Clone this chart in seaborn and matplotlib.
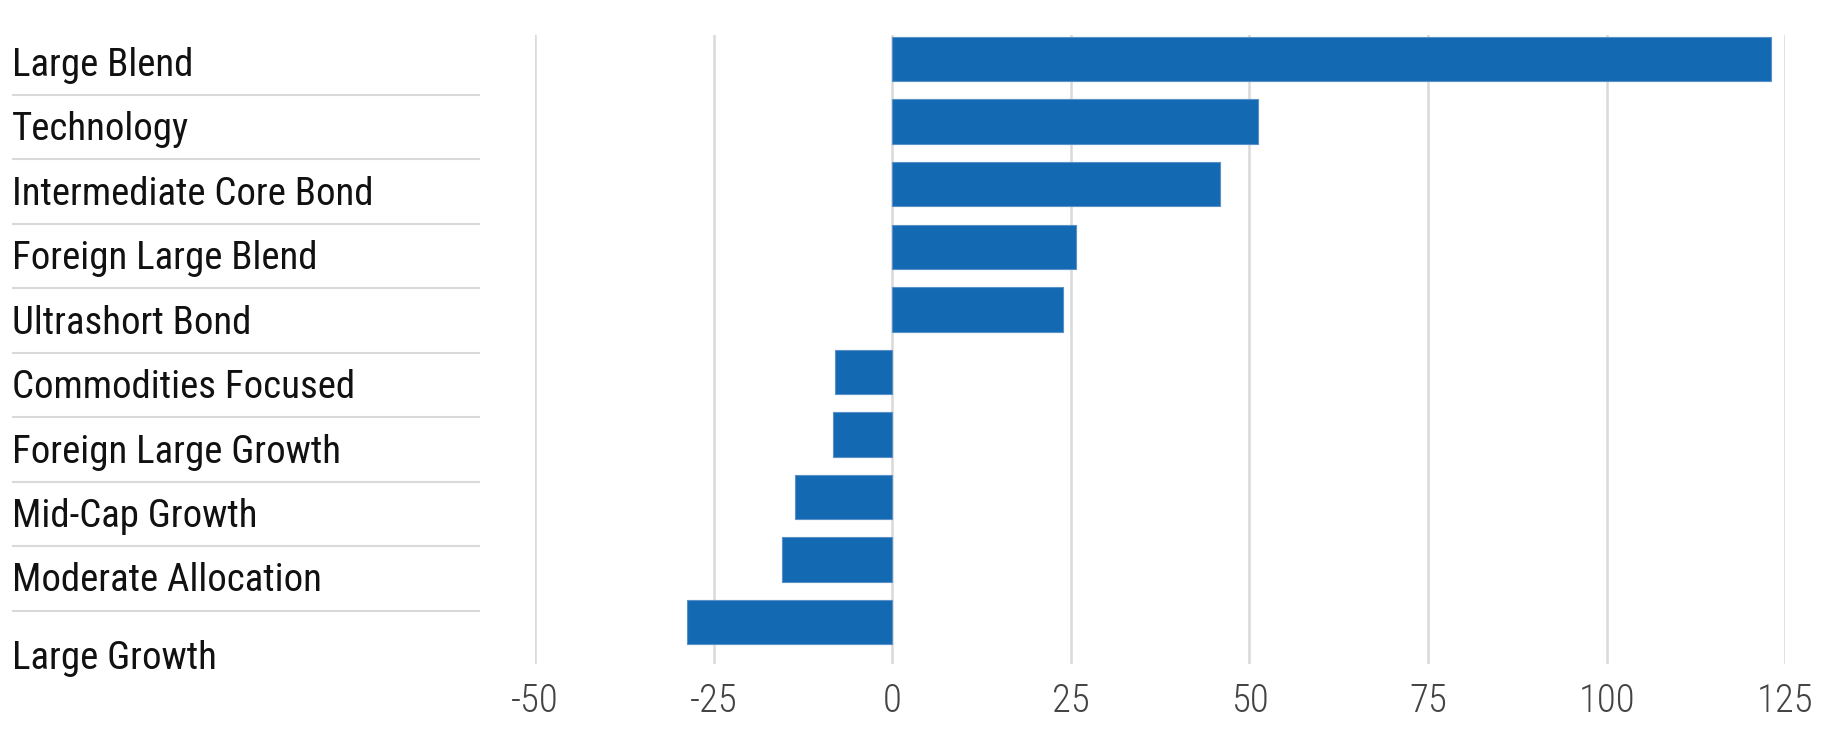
import matplotlib
matplotlib.use("Agg")
import matplotlib.pyplot as plt
from matplotlib import font_manager
import seaborn as sns
import pandas as pd

# ===================== Data =====================
categories = [
    "Large Blend",
    "Technology",
    "Intermediate Core Bond",
    "Foreign Large Blend",
    "Ultrashort Bond",
    "Commodities Focused",
    "Foreign Large Growth",
    "Mid-Cap Growth",
    "Moderate Allocation",
    "Large Growth",
]
values = [123.0, 51.2, 45.9, 25.7, 23.9, -8.0, -8.3, -13.6, -15.5, -28.8]
x_ticks = [-50, -25, 0, 25, 50, 75, 100, 125]

BAR_COLOR = "#1469b3"
GRID_COLOR = "#d9d9d9"
# ================================================

# pick a narrow face if one is installed
names = {f.name for f in font_manager.fontManager.ttflist}
wanted = ["Roboto Condensed", "Archivo Narrow", "Barlow Semi Condensed"]
FONT = [n for n in wanted if n in names][:1] + ["DejaVu Sans"]

sns.set_style("white")
plt.rcParams["font.family"] = FONT

df = pd.DataFrame({"category": categories, "value": values})

fig = plt.figure(figsize=(18.28, 7.44), dpi=100)

# bar axes
ax = fig.add_axes([0.2927, 0.1075, 0.6839, 0.8458])
sns.barplot(data=df, x="value", y="category", orient="h", color=BAR_COLOR,
            saturation=1, width=0.71, edgecolor="#5a8fc8", linewidth=0.8, ax=ax)
ax.set_xlim(-50, 125)
ax.set_ylim(9.67, -0.39)
ax.set_xticks(x_ticks)
ax.set_xticklabels([str(t) for t in x_ticks], fontsize=28, color="#444444",
                   fontweight="light")
ax.tick_params(axis="x", length=0, pad=13)
ax.set_yticks([])
ax.set_xlabel("")
ax.set_ylabel("")
ax.grid(axis="x", color=GRID_COLOR, linewidth=1.8)
ax.set_axisbelow(True)
for s in ax.spines.values():
    s.set_visible(False)

# category label column
ax_lab = fig.add_axes([0.0, 0.1075, 0.27, 0.8458])
ax_lab.set_xlim(0, 1)
ax_lab.set_ylim(9.33, -0.435)
ax_lab.axis("off")
label_pos = [i + 0.04 for i in range(len(categories))]
label_pos[-1] = 9.24
for name, y in zip(categories, label_pos):
    ax_lab.text(0.025, y, name, fontsize=28, color="#111111",
                va="center", ha="left")
ax_lab.hlines([i + 0.5 for i in range(len(categories) - 1)], 0.024, 0.973,
              color=GRID_COLOR, linewidth=1.5)

fig.savefig("out.png", dpi=100)
